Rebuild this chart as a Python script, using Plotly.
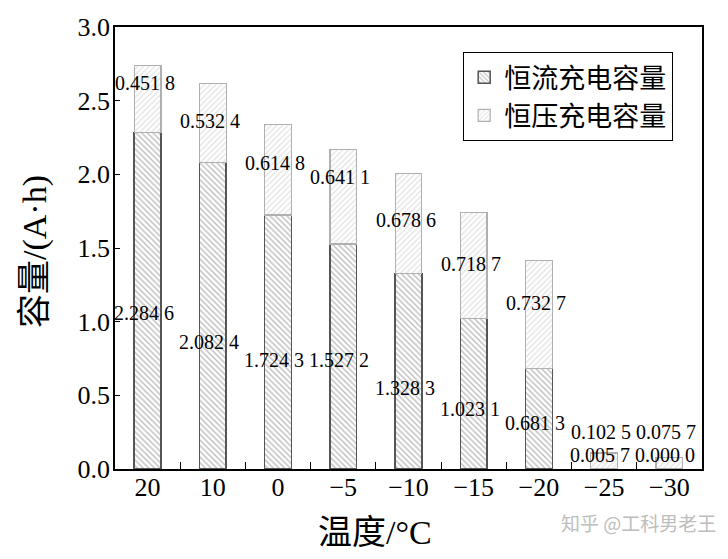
import plotly.graph_objects as go

categories = ["20", "10", "0", "−5", "−10", "−15", "−20", "−25", "−30"]
cc_capacity = [2.2846, 2.0824, 1.7243, 1.5272, 1.3283, 1.0231, 0.6813, 0.0057, 0.0000]
cv_capacity = [0.4518, 0.5324, 0.6148, 0.6411, 0.6786, 0.7187, 0.7327, 0.1025, 0.0757]
series_names = ["恒流充电容量", "恒压充电容量"]

# label anchor heights (data units)
cc_label_y = [1.06, 0.86, 0.74, 0.74, 0.55, 0.41, 0.31, 0.095, 0.095]
cv_label_y = [2.62, 2.36, 2.08, 1.98, 1.69, 1.39, 1.13, 0.25, 0.25]

SERIF = "Liberation Serif, Times New Roman, Noto Sans CJK SC, serif"


def fmt(v):
    s = f"{v:.4f}"
    return s[:-1] + " " + s[-1]


fig = go.Figure()
fig.add_trace(go.Bar(
    x=categories, y=cc_capacity, name=series_names[0], width=0.41,
    marker=dict(color="white", line=dict(color="#555555", width=1.5),
                pattern=dict(shape="\\", fgcolor="#7a7a7a", bgcolor="white",
                             size=4, solidity=0.35)),
))
fig.add_trace(go.Bar(
    x=categories, y=cv_capacity, name=series_names[1], width=0.41,
    marker=dict(color="white", line=dict(color="#b0b0b0", width=1.2),
                pattern=dict(shape="/", fgcolor="#c4c4c4", bgcolor="white",
                             size=4, solidity=0.3)),
))

W, H = 728, 559
L, R, T, B = 115, 26, 27, 90
pw, ph = W - L - R, H - T - B


def px_to_paper(x, y):
    return (x - L) / pw, (H - B - y) / ph


annotations = []
for i, c in enumerate(categories):
    annotations.append(dict(x=i, y=cc_label_y[i], xref="x", yref="y",
                            text=fmt(cc_capacity[i]), showarrow=False,
                            xshift=-4,
                            font=dict(family=SERIF, size=20, color="black")))
    annotations.append(dict(x=i, y=cv_label_y[i], xref="x", yref="y",
                            text=fmt(cv_capacity[i]), showarrow=False,
                            xshift=-3,
                            font=dict(family=SERIF, size=20, color="black")))

tx, ty = px_to_paper(375, 532)
annotations.append(dict(x=tx, y=ty, xref="paper", yref="paper",
                        xanchor="center", yanchor="middle",
                        text="温度/°C", showarrow=False,
                        font=dict(family=SERIF, size=34, color="black")))
yx, yy = px_to_paper(35, 252)
annotations.append(dict(text="容量/(A·h)", showarrow=False, textangle=-90,
                        xref="paper", yref="paper", x=yx, y=yy,
                        xanchor="center", yanchor="middle",
                        font=dict(family=SERIF, size=34, color="black")))
wx, wy = px_to_paper(638, 522)
annotations.append(dict(text="知乎 @工科男老王", showarrow=False,
                        xref="paper", yref="paper", x=wx, y=wy,
                        xanchor="center", yanchor="middle",
                        font=dict(family="Noto Sans CJK SC", size=19, color="#bdbdbd")))

lx, ly = px_to_paper(673, 52)

fig.update_layout(
    barmode="stack",
    width=W, height=H,
    margin=dict(l=L, r=R, t=T, b=B),
    paper_bgcolor="white", plot_bgcolor="white",
    font=dict(family=SERIF, color="black"),
    showlegend=True,
    legend=dict(x=lx, y=ly, xanchor="right", yanchor="top",
                bordercolor="black", borderwidth=1.2, bgcolor="white",
                font=dict(family=SERIF, size=27, color="black"),
                itemwidth=30, tracegroupgap=0, traceorder="normal"),
    annotations=annotations,
)
fig.update_xaxes(
    type="category", range=[-0.5, len(categories) - 0.5],
    showline=True, linecolor="black", linewidth=1.5,
    mirror=True, ticks="inside", ticklen=7, tickwidth=1, tickcolor="black",
    tickson="boundaries", showgrid=False, tickangle=0,
    ticklabelstandoff=-6,
    tickfont=dict(family=SERIF, size=26, color="black"),
)
fig.update_yaxes(
    range=[0, 3.0], dtick=0.5, tickformat=".1f", showline=True,
    linecolor="black", linewidth=1.5, mirror=True, ticks="inside",
    ticklen=5, tickwidth=1, tickcolor="black", showgrid=False, zeroline=False,
    ticklabelstandoff=-2,
    tickfont=dict(family=SERIF, size=26, color="black"),
)

fig.write_html(
    "out.html",
    config={"displayModeBar": False},
    post_script="document.body.style.margin='0px';document.body.style.overflow='hidden';",
)
